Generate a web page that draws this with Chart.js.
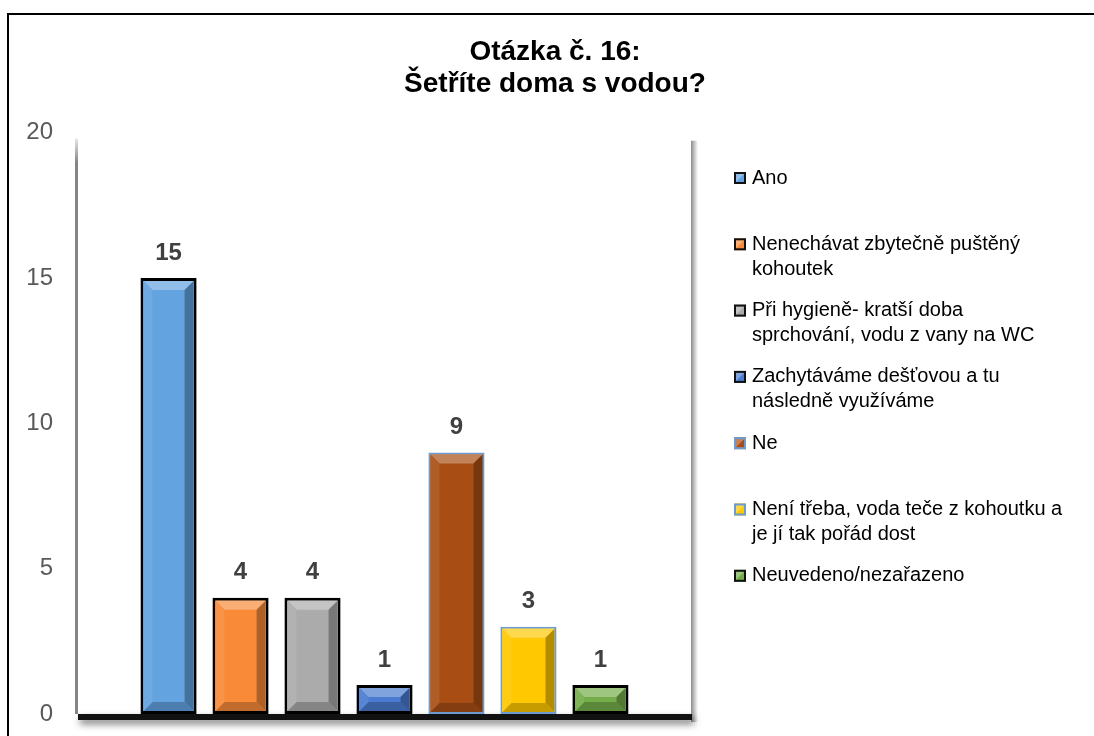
<!DOCTYPE html>
<html>
<head>
<meta charset="utf-8">
<script src="https://cdn.jsdelivr.net/npm/chart.js@4.4.1/dist/chart.umd.min.js"></script>
<style>
  html, body { margin: 0; padding: 0; background: #fff; }
  #wrap { width: 1094px; height: 736px; position: relative; }
</style>
</head>
<body>
<div id="wrap"><canvas id="c" width="1094" height="736"></canvas></div>
<script>
  // data
  const seriesNames = [
    ['Ano'],
    ['Nenechávat zbytečně puštěný', 'kohoutek'],
    ['Při hygieně- kratší doba', 'sprchování, vodu z vany na WC'],
    ['Zachytáváme dešťovou a tu', 'následně využíváme'],
    ['Ne'],
    ['Není třeba, voda teče z kohoutku a', 'je jí tak pořád dost'],
    ['Neuvedeno/nezařazeno']
  ];
  const seriesValues = [15, 4, 4, 1, 9, 3, 1];
  const fillColors = ['#62a3e0', '#f88a38', '#ababab', '#4a7bd0', '#a84e14', '#ffc800', '#74ad4a'];
  const edgeColors = ['#000', '#000', '#000', '#000', '#6b9bd0', '#6b9bd0', '#000'];
  const titleLines = ['Otázka č. 16:', 'Šetříte doma s vodou?'];
  const yMax = 20;
  const yStep = 5;

  const FONT = '"Liberation Sans", Arial, sans-serif';

  function shade(hex, amt) {
    const n = parseInt(hex.slice(1), 16);
    let r = n >> 16, g = (n >> 8) & 255, b = n & 255;
    const f = c => Math.max(0, Math.min(255, Math.round(amt > 0 ? c + (255 - c) * amt : c * (1 + amt))));
    return 'rgb(' + f(r) + ',' + f(g) + ',' + f(b) + ')';
  }

  const framePlugin = {
    id: 'frame',
    beforeDraw(chart) {
      const ctx = chart.ctx;
      ctx.save();
      ctx.strokeStyle = '#000';
      ctx.lineWidth = 2;
      ctx.beginPath();
      ctx.moveTo(8, 740);
      ctx.lineTo(8, 14);
      ctx.lineTo(1100, 14);
      ctx.stroke();
      ctx.restore();
    },
    beforeDatasetsDraw(chart) {
      const { ctx, chartArea: a } = chart;
      ctx.save();
      // right wall shadow
      let g = ctx.createLinearGradient(a.right, 0, a.right + 7, 0);
      g.addColorStop(0, 'rgba(0,0,0,0.45)');
      g.addColorStop(1, 'rgba(0,0,0,0)');
      ctx.fillStyle = g;
      ctx.fillRect(a.right, a.top + 8, 7, a.bottom - a.top);
      // left wall edge
      g = ctx.createLinearGradient(0, a.top, 0, a.top + 30);
      g.addColorStop(0, 'rgba(120,120,120,0)');
      g.addColorStop(1, 'rgba(120,120,120,0.9)');
      ctx.fillStyle = g;
      ctx.fillRect(a.left - 3, a.top + 6, 3, a.bottom - a.top - 6);
      // floor
      ctx.shadowColor = 'rgba(0,0,0,0.55)';
      ctx.shadowBlur = 7;
      ctx.shadowOffsetY = 4;
      ctx.shadowOffsetX = 2;
      ctx.fillStyle = '#111';
      ctx.fillRect(a.left, a.bottom, a.right - a.left + 1, 6);
      ctx.restore();
    }
  };

  const bevelPlugin = {
    id: 'bevel',
    afterDatasetsDraw(chart) {
      const ctx = chart.ctx;
      chart.data.datasets.forEach((ds, i) => {
        const meta = chart.getDatasetMeta(i);
        meta.data.forEach(bar => {
          const bw = ds.borderWidth;
          const l = bar.x - bar.width / 2 + bw, r = bar.x + bar.width / 2 - bw;
          const t = bar.y + bw, b = bar.base - bw;
          const h = b - t;
          const d = Math.min(9, h / 2, (r - l) / 2);
          const c = ds.backgroundColor;
          ctx.save();
          const poly = (pts, col) => {
            ctx.beginPath();
            ctx.moveTo(pts[0][0], pts[0][1]);
            for (let k = 1; k < pts.length; k++) ctx.lineTo(pts[k][0], pts[k][1]);
            ctx.closePath();
            ctx.fillStyle = col;
            ctx.fill();
          };
          poly([[l, t], [r, t], [r - d, t + d], [l + d, t + d]], shade(c, 0.3));
          poly([[r, t], [r, b], [r - d, b - d], [r - d, t + d]], shade(c, -0.3));
          poly([[l, b], [r, b], [r - d, b - d], [l + d, b - d]], shade(c, -0.22));
          poly([[l, t], [l + d, t + d], [l + d, b - d], [l, b]], shade(c, 0.08));
          // value label
          ctx.fillStyle = '#404040';
          ctx.font = 'bold 24px ' + FONT;
          ctx.textAlign = 'center';
          ctx.textBaseline = 'middle';
          ctx.fillText(String(ds.data[0]), bar.x, bar.y - 25);
          ctx.restore();
        });
      });
    }
  };

  const legendPlugin = {
    id: 'sideLegend',
    afterDraw(chart) {
      const ctx = chart.ctx;
      const x0 = 734, y0 = 178, step = 66.3, lh = 25, sz = 12;
      ctx.save();
      chart.data.datasets.forEach((ds, i) => {
        const y = y0 + i * step;
        ctx.fillStyle = ds.backgroundColor;
        ctx.fillRect(x0, y - sz / 2, sz, sz);
        ctx.fillStyle = shade(ds.backgroundColor, 0.3);
        ctx.beginPath();
        ctx.moveTo(x0, y - sz / 2); ctx.lineTo(x0 + sz, y - sz / 2); ctx.lineTo(x0, y + sz / 2);
        ctx.closePath(); ctx.fill();
        ctx.strokeStyle = ds.borderColor === '#000' ? '#111' : ds.borderColor;
        ctx.lineWidth = 2;
        ctx.strokeRect(x0 + 1, y - sz / 2 + 1, sz - 2, sz - 2);
        ctx.fillStyle = '#000';
        ctx.font = '20px ' + FONT;
        ctx.textAlign = 'left';
        ctx.textBaseline = 'middle';
        ds.label.forEach((line, k) => ctx.fillText(line, x0 + 18, y + k * lh));
      });
      ctx.restore();
    }
  };

  new Chart(document.getElementById('c'), {
    type: 'bar',
    data: {
      labels: [''],
      datasets: seriesNames.map((name, i) => ({
        label: name,
        data: [seriesValues[i]],
        backgroundColor: fillColors[i],
        borderColor: edgeColors[i],
        borderWidth: edgeColors[i] === '#000' ? 3 : 2,
        borderSkipped: false,
        categoryPercentage: 0.822,
        barPercentage: 0.78
      }))
    },
    options: {
      responsive: false,
      animation: false,
      layout: { padding: { left: 16, right: 0, top: 0, bottom: 22 } },
      plugins: {
        legend: { display: false },
        tooltip: { enabled: false },
        title: {
          display: true,
          text: titleLines,
          color: '#000',
          font: { family: FONT, size: 28, weight: 'bold', lineHeight: 1.12 },
          padding: { top: 37, bottom: 33 }
        }
      },
      scales: {
        x: { display: false },
        y: {
          min: 0,
          max: yMax,
          grid: { display: false, drawTicks: false },
          border: { display: false },
          ticks: {
            stepSize: yStep,
            padding: 25,
            color: '#595959',
            font: { family: FONT, size: 24 }
          },
          afterFit(scale) {
            scale.width = 62;
            scale.paddingTop = 0;
            scale.paddingBottom = 0;
          }
        },
        // empty scale on the right keeps room for the legend
        yRight: {
          position: 'right',
          grid: { display: false, drawTicks: false },
          border: { display: false },
          ticks: { display: false },
          afterFit(scale) { scale.width = 403; }
        }
      }
    },
    plugins: [framePlugin, bevelPlugin, legendPlugin]
  });
</script>
</body>
</html>
